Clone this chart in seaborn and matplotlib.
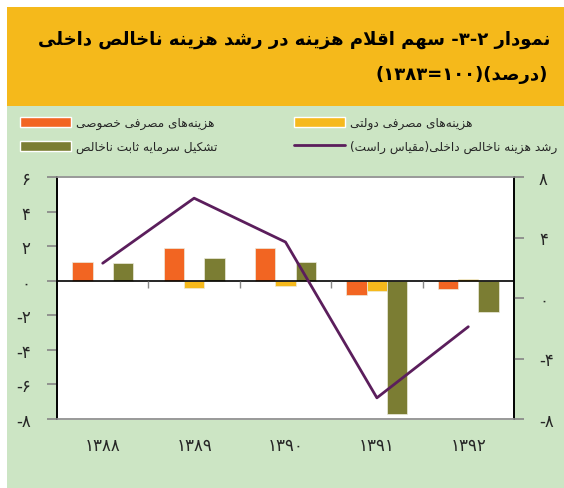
import re
import matplotlib
matplotlib.use('Agg')
import matplotlib.pyplot as plt
import matplotlib.ticker as mticker
from matplotlib.patches import Rectangle
from matplotlib.lines import Line2D
import numpy as np
import pandas as pd
import seaborn as sns

# ---------------- data ----------------
years = ['۱۳۸۸', '۱۳۸۹', '۱۳۹۰', '۱۳۹۱', '۱۳۹۲']
private_cons = [1.1, 1.9, 1.9, -0.8, -0.5]
gov_cons = [0.0, -0.4, -0.3, -0.6, 0.1]
fixed_capital = [1.0, 1.3, 1.1, -7.7, -1.8]
gdp_growth = [2.3, 6.6, 3.7, -6.6, -1.9]

series_names = ['هزینه‌های مصرفی خصوصی', 'هزینه‌های مصرفی دولتی', 'تشکیل سرمایه ثابت ناخالص']
line_name = 'رشد هزینه ناخالص داخلی(مقیاس راست)'
title_1 = 'نمودار ۲-۳- سهم اقلام هزینه در رشد هزینه ناخالص داخلی'
title_2 = '(درصد)(۱۰۰=۱۳۸۳)'

left_ticks = [6, 4, 2, 0, -2, -4, -6, -8]
right_ticks = [8, 4, 0, -4, -8]

c_orange = '#F26522'
c_yellow = '#F6B91C'
c_olive = '#7B7D33'
c_purple = '#5B1E5C'
c_green = '#CCE5C4'
c_band = '#F5B91B'

# ---------------- simple persian shaping (no arabic_reshaper here) ----------------
FORMS = {
    'ا': ('\uFE8D', '\uFE8E', None, None),
    'ب': ('\uFE8F', '\uFE90', '\uFE91', '\uFE92'),
    'ت': ('\uFE95', '\uFE96', '\uFE97', '\uFE98'),
    'ث': ('\uFE99', '\uFE9A', '\uFE9B', '\uFE9C'),
    'خ': ('\uFEA5', '\uFEA6', '\uFEA7', '\uFEA8'),
    'د': ('\uFEA9', '\uFEAA', None, None),
    'ر': ('\uFEAD', '\uFEAE', None, None),
    'ز': ('\uFEAF', '\uFEB0', None, None),
    'س': ('\uFEB1', '\uFEB2', '\uFEB3', '\uFEB4'),
    'ش': ('\uFEB5', '\uFEB6', '\uFEB7', '\uFEB8'),
    'ص': ('\uFEB9', '\uFEBA', '\uFEBB', '\uFEBC'),
    'ف': ('\uFED1', '\uFED2', '\uFED3', '\uFED4'),
    'ق': ('\uFED5', '\uFED6', '\uFED7', '\uFED8'),
    'ل': ('\uFEDD', '\uFEDE', '\uFEDF', '\uFEE0'),
    'م': ('\uFEE1', '\uFEE2', '\uFEE3', '\uFEE4'),
    'ن': ('\uFEE5', '\uFEE6', '\uFEE7', '\uFEE8'),
    'ه': ('\uFEE9', '\uFEEA', '\uFEEB', '\uFEEC'),
    'و': ('\uFEED', '\uFEEE', None, None),
    'ی': ('\uFBFC', '\uFBFD', '\uFBFE', '\uFBFF'),
    'ک': ('\uFB8E', '\uFB8F', '\uFB90', '\uFB91'),
}


def fa(text):
    chars = list(text)
    out = []
    i = 0
    while i < len(chars):
        c = chars[i]
        if c not in FORMS:
            out.append(c)
            i += 1
            continue
        prev = chars[i - 1] if i > 0 else None
        join_prev = prev in FORMS and FORMS[prev][2] is not None
        if c == 'ل' and i + 1 < len(chars) and chars[i + 1] == 'ا':
            out.append('\uFEFC' if join_prev else '\uFEFB')
            i += 2
            continue
        nxt = chars[i + 1] if i + 1 < len(chars) else None
        join_next = FORMS[c][2] is not None and nxt in FORMS
        iso, fin, ini, med = FORMS[c]
        if join_prev and join_next:
            out.append(med)
        elif join_prev:
            out.append(fin)
        elif join_next:
            out.append(ini)
        else:
            out.append(iso)
        i += 1
    s = ''.join(out).replace('\u200c', '')
    tokens = re.findall(r'[۰-۹0-9]+|.', s)
    mirror = {'(': ')', ')': '('}
    return ''.join(mirror.get(t, t) for t in reversed(tokens))


def fa_num(v, pos=None):
    digits = '۰۱۲۳۴۵۶۷۸۹'
    n = int(round(v))
    s = ''.join(digits[int(d)] for d in str(abs(n)))
    return ('-' + s) if n < 0 else s


# ---------------- figure ----------------
sns.set_theme(style='white')
plt.rcParams['font.family'] = ['DejaVu Sans']

W, H = 564, 489
fig = plt.figure(figsize=(W / 100, H / 100), dpi=100, facecolor='white')

# background green panel and yellow title band
fig.patches.append(Rectangle((7 / W, 0), 1 - 7 / W, 1 - 107 / H, transform=fig.transFigure,
                             facecolor=c_green, edgecolor='none', zorder=-10))
fig.patches.append(Rectangle((7 / W, 1 - 107 / H), 1 - 7 / W, 99 / H, transform=fig.transFigure,
                             facecolor=c_band, edgecolor='none', zorder=-10))

fig.text(550 / W, 1 - 40 / H, fa(title_1), ha='right', va='center', fontsize=13,
         fontweight='bold', color='black')
fig.text(548 / W, 1 - 75 / H, fa(title_2), ha='right', va='center', fontsize=13,
         fontweight='bold', color='black')

ax = fig.add_axes([57 / W, 1 - 420 / H, (514 - 57) / W, (420 - 178) / H])
ax.set_facecolor('white')

df = pd.DataFrame({
    'year': years * 3,
    'series': [series_names[0]] * 5 + [series_names[1]] * 5 + [series_names[2]] * 5,
    'value': private_cons + gov_cons + fixed_capital,
})
sns.barplot(data=df, x='year', y='value', hue='series', hue_order=series_names,
            palette=[c_orange, c_yellow, c_olive], saturation=1, width=2 / 3, gap=0,
            edgecolor='#ecebdd', linewidth=0.5, legend=False, ax=ax)

ax.set_xlim(-0.5, len(years) - 0.5)
ax.set_ylim(-8, 6)
ax.set_yticks(left_ticks)
ax.yaxis.set_major_formatter(mticker.FuncFormatter(fa_num))
ax.set_xlabel('')
ax.set_ylabel('')
ax.tick_params(axis='y', length=7, color='#888888', labelsize=12, pad=12)
ax.tick_params(axis='x', length=0, labelsize=12, pad=12)
ax.axhline(0, color='black', lw=1.2, zorder=3)
ax.vlines(np.arange(len(years) - 1) + 0.5, -0.45, 0, color='#888888', lw=1, zorder=3)

for side in ['left', 'right']:
    ax.spines[side].set_color('black')
    ax.spines[side].set_linewidth(1.2)
for side in ['top', 'bottom']:
    ax.spines[side].set_color('#999999')
    ax.spines[side].set_linewidth(1.2)

# right axis: GDP growth line
ax2 = ax.twinx()
sns.lineplot(x=np.arange(len(years)), y=gdp_growth, color=c_purple, lw=2, ax=ax2)
ax2.set_ylim(-8, 8)
ax2.set_yticks(right_ticks)
ax2.yaxis.set_major_formatter(mticker.FuncFormatter(fa_num))
ax2.tick_params(axis='y', length=7, color='#888888', labelsize=12, pad=11)
for side in ['left', 'right']:
    ax2.spines[side].set_color('black')
    ax2.spines[side].set_linewidth(1.2)
for side in ['top', 'bottom']:
    ax2.spines[side].set_color('#999999')
    ax2.spines[side].set_linewidth(1.2)

# legend: two columns, handle on the left of each label
leg_kw = dict(loc='upper left', frameon=False, fontsize=8.7, handlelength=4.2, handleheight=0.95,
              handletextpad=0.4, labelspacing=0.9, borderpad=0, borderaxespad=0)
fig.legend([Rectangle((0, 0), 1, 1, facecolor=c_orange),
            Rectangle((0, 0), 1, 1, facecolor=c_olive)],
           [fa(series_names[0]), fa(series_names[2])],
           bbox_to_anchor=(20 / W, 1 - 117 / H), **leg_kw)
fig.legend([Rectangle((0, 0), 1, 1, facecolor=c_yellow),
            Line2D([0], [0], color=c_purple, lw=2)],
           [fa(series_names[1]), fa(line_name)],
           bbox_to_anchor=(294 / W, 1 - 117 / H), **leg_kw)

fig.savefig('out.png', dpi=100, facecolor='white')
